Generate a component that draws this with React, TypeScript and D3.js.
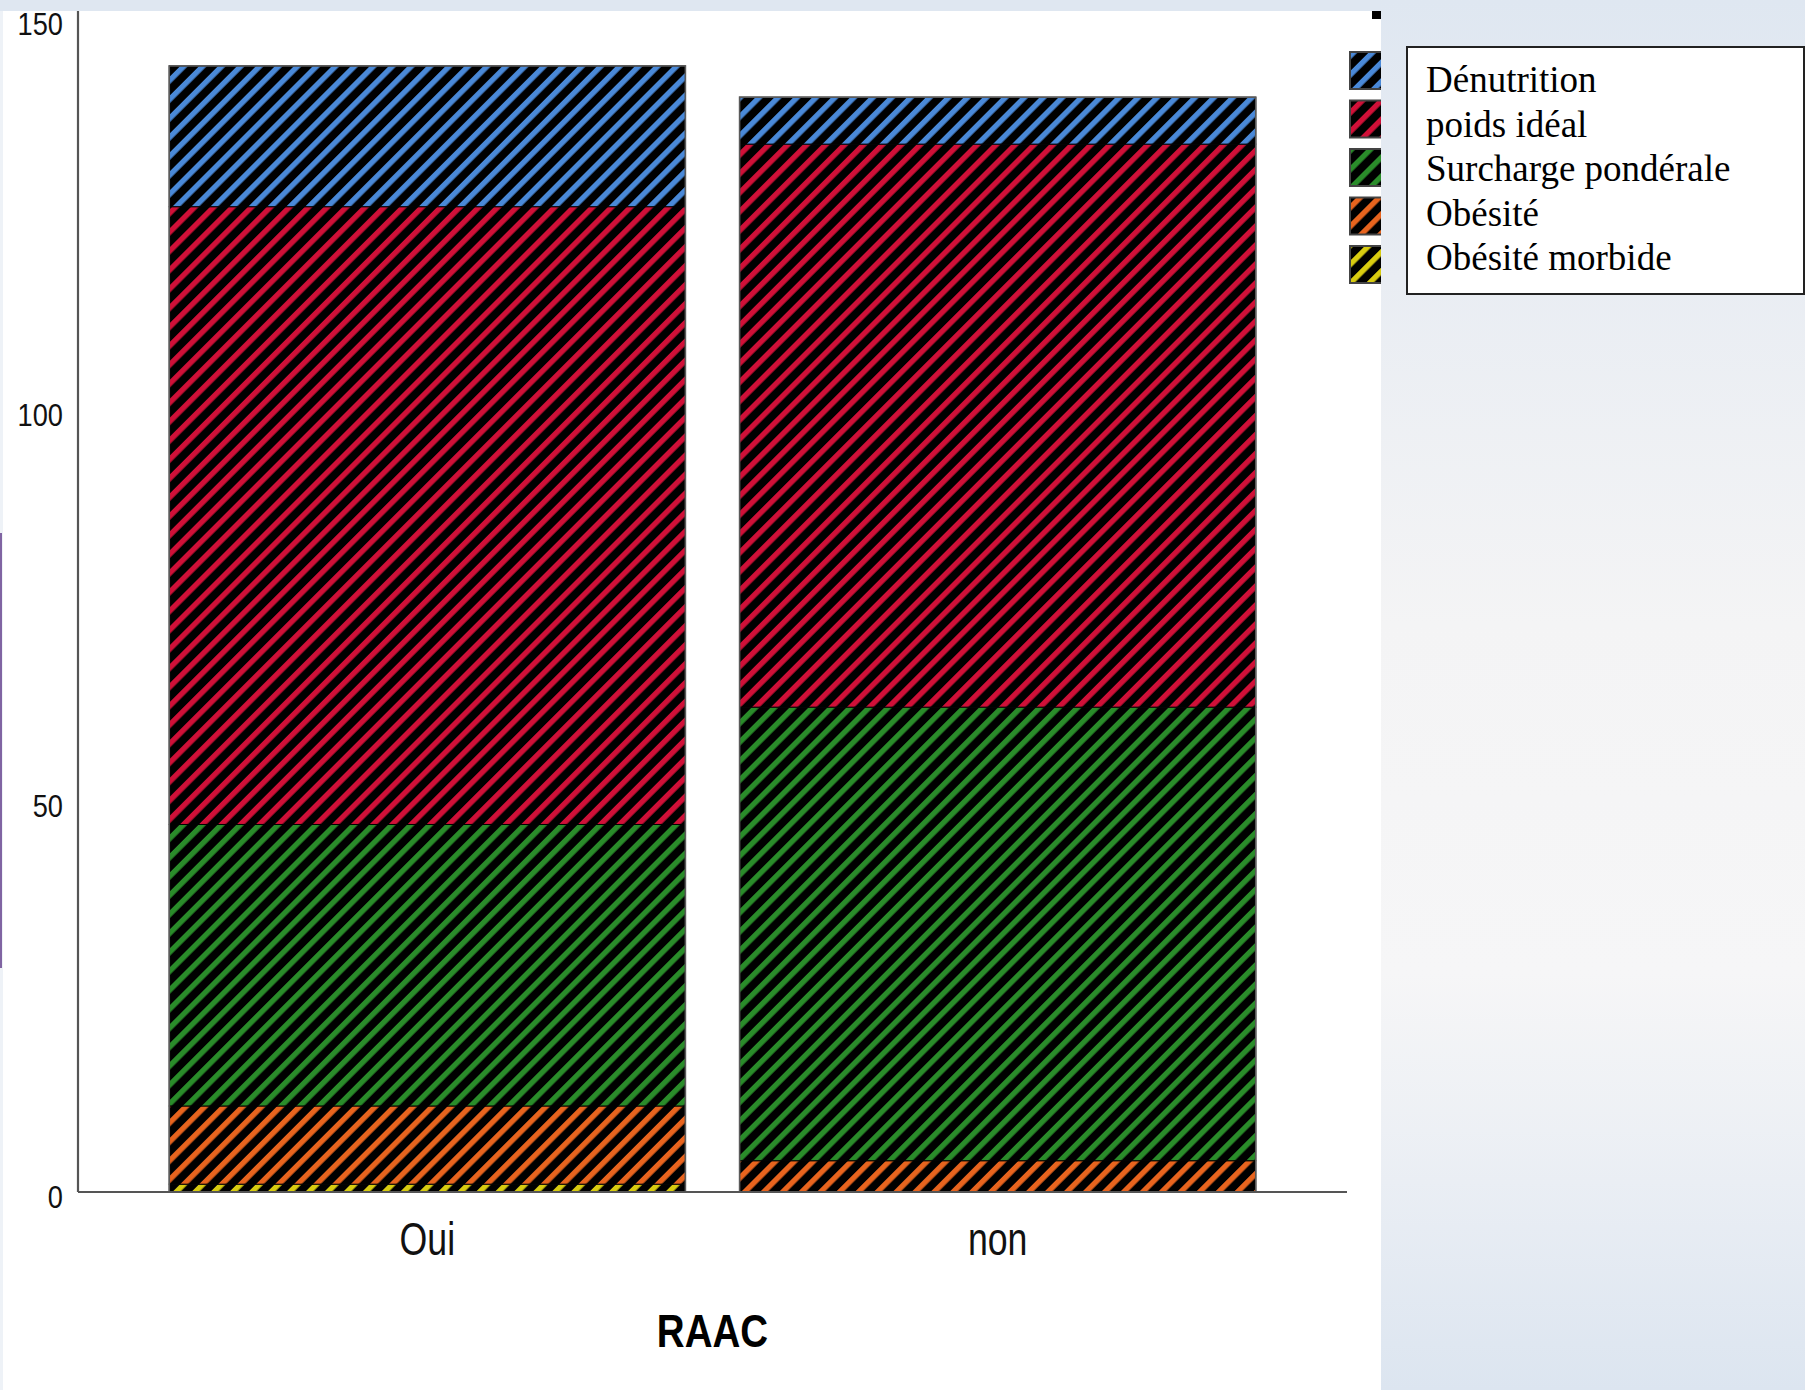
import React from "react";
import * as d3 from "d3";

const categories = ["Oui", "non"];
const seriesNames = ["Dénutrition", "poids idéal", "Surcharge pondérale", "Obésité", "Obésité morbide"];
const denutrition = [18, 6];
const poidsIdeal = [79, 72];
const surcharge = [36, 58];
const obesite = [10, 4];
const obesiteMorbide = [1, 0];
const yTicks = [0, 50, 100, 150];
const seriesColors = ["#4a89d8", "#d01038", "#2a8c2a", "#e8641e", "#d8cc10"];
const xTitle = "RAAC";

export default function App() {
  const W = 1805, H = 1390;
  const axisLeft = 78, axisRight = 1347, baseY = 1192;
  const y = d3.scaleLinear().domain([0, 150]).range([baseY, 19]);
  const x = d3.scaleBand<string>().domain(categories).range([axisLeft, axisRight]).paddingInner(0.095).paddingOuter(0.16);

  const rows = categories.map((c, i) => ({
    cat: c,
    "Dénutrition": denutrition[i],
    "poids idéal": poidsIdeal[i],
    "Surcharge pondérale": surcharge[i],
    "Obésité": obesite[i],
    "Obésité morbide": obesiteMorbide[i],
  }));
  const keysBottomUp = [...seriesNames].reverse();
  const stacked = d3.stack<any>().keys(keysBottomUp)(rows as any);
  const pid = (k: string) => "hatch" + seriesNames.indexOf(k);

  const totals = rows.map((r: any) => seriesNames.reduce((s, k) => s + r[k], 0));

  return (
    <svg width={W} height={H} style={{ position: "absolute", left: 0, top: 0 }} xmlns="http://www.w3.org/2000/svg">
      <defs>
        {seriesNames.map((k, i) => (
          <pattern key={k} id={"hatch" + i} patternUnits="userSpaceOnUse" width={13.4} height={13.4} patternTransform="rotate(45)">
            <rect x={0} y={0} width={13.4} height={13.4} fill="#000" />
            <rect x={0} y={0} width={5.4} height={13.4} fill={seriesColors[i]} />
          </pattern>
        ))}
        <linearGradient id="bgGrad" x1="0" y1="0" x2="0" y2="1">
          <stop offset="0" stopColor="#dfe7f1" />
          <stop offset="0.2" stopColor="#e9edf3" />
          <stop offset="0.45" stopColor="#f4f4f5" />
          <stop offset="0.7" stopColor="#f6f6f7" />
          <stop offset="0.85" stopColor="#eaeef4" />
          <stop offset="1" stopColor="#dce5f0" />
        </linearGradient>
      </defs>
      <rect x={0} y={0} width={W} height={H} fill="#ffffff" />
      <rect x={0} y={0} width={1381} height={11} fill="#dfe7f1" />
      <rect x={0} y={11} width={3} height={H - 11} fill="#eef2f7" />
      <rect x={0} y={533} width={2} height={435} fill="#8064a2" />

      {stacked.map((layer: any) => (
        <g key={layer.key}>
          {layer.map((d: any, i: number) => {
            const h = y(d[0]) - y(d[1]);
            if (h <= 0) return null;
            return (
              <rect key={i} x={x(categories[i])!} y={y(d[1])} width={x.bandwidth()} height={h}
                fill={`url(#${pid(layer.key)})`} stroke="#000" strokeWidth={1} />
            );
          })}
        </g>
      ))}
      {categories.map((c, i) => (
        <rect key={c} x={x(c)!} y={y(totals[i])} width={x.bandwidth()} height={baseY - y(totals[i])}
          fill="none" stroke="#5a5a5a" strokeWidth={1.6} />
      ))}

      <line x1={axisLeft} x2={axisLeft} y1={11} y2={baseY} stroke="#555" strokeWidth={2.2} />
      <line x1={axisLeft} x2={axisRight} y1={baseY} y2={baseY} stroke="#555" strokeWidth={2.2} />
      {yTicks.map((t) => (
        <text key={t} transform={`translate(63,${y(t) + 16}) scale(0.85,1)`} textAnchor="end"
          fontFamily="Liberation Sans, Arial, sans-serif" fontSize={32} fill="#111">{t}</text>
      ))}
      {categories.map((c) => (
        <text key={c} transform={`translate(${x(c)! + x.bandwidth() / 2},1255) scale(0.76,1)`} textAnchor="middle"
          fontFamily="Liberation Sans, Arial, sans-serif" fontSize={47} fill="#111">{c}</text>
      ))}
      <text transform={`translate(${(axisLeft + axisRight) / 2},1347) scale(0.82,1)`} textAnchor="middle"
        fontFamily="Liberation Sans, Arial, sans-serif" fontWeight="bold" fontSize={47} fill="#000">{xTitle}</text>

      {seriesNames.map((k, i) => (
        <rect key={k} x={1350} y={52 + i * 48.5} width={40} height={37} fill={`url(#hatch${i})`} stroke="#444" strokeWidth={2} />
      ))}
      <rect x={1372} y={11} width={10} height={8} fill="#000" />

      <rect x={1381} y={0} width={W - 1381} height={H} fill="url(#bgGrad)" />

      <rect x={1407} y={47} width={397} height={247} fill="#fff" stroke="#222" strokeWidth={2} />
      {seriesNames.map((k, i) => (
        <text key={k} x={1426} y={92 + i * 44.6} fontFamily="Liberation Serif, Times New Roman, serif" fontSize={37} fill="#000">{k}</text>
      ))}
    </svg>
  );
}
